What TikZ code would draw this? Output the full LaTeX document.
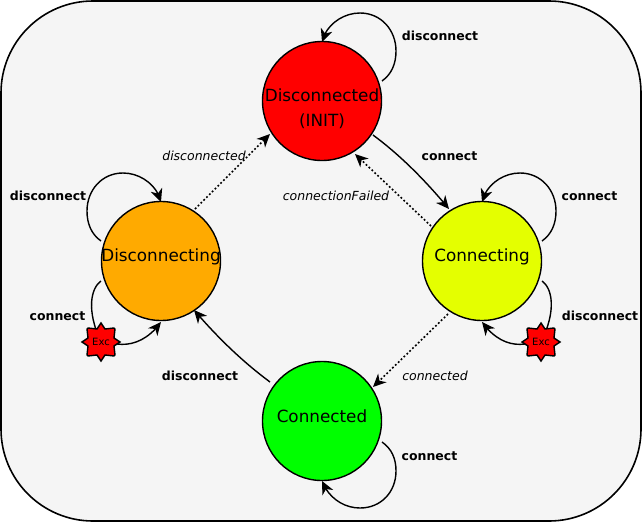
\documentclass[tikz,border=0pt]{standalone}
\usepackage{fontspec}
\setmainfont{DejaVu Sans}
\usetikzlibrary{arrows.meta,shapes.geometric,bending}
\definecolor{panel}{HTML}{F5F5F5}
\tikzset{x=1pt,y=-1pt,
 st/.style={circle,draw=black,line width=1.4pt,minimum size=119pt,inner sep=0pt},
 stt/.style={inner sep=0pt,align=center,font=\fontsize{16.8}{25}\selectfont,text=black},
 tr/.style={line width=1.4pt,-{Stealth[length=13pt,width=12pt,inset=4pt]}},
 dot/.style={tr,line width=1.6pt,dash pattern=on 1.8pt off 2.2pt},
 pl/.style={line width=1.4pt},
 lb/.style={font=\bfseries\fontsize{12.5}{14}\selectfont,inner sep=0pt},
 il/.style={font=\itshape\fontsize{12.5}{14}\selectfont,inner sep=0pt},
 exc/.style={circle,minimum size=30pt,inner sep=0pt,font=\fontsize{10}{10}\selectfont},
 burst/.style={draw=black,fill=red,line width=1.4pt,line join=miter}}
\newcommand{\burstat}[2]{\path[burst,shift={(#1,#2)}]
 (0,-19) -- (4,-13) -- (13,-14) -- (14,-13) -- (13,-4) -- (19,0) -- (13,4) -- (14,13) -- (13,14) -- (4,13)
 -- (0,19) -- (-4,13) -- (-13,14) -- (-14,13) -- (-13,4) -- (-19,0) -- (-13,-4) -- (-14,-13) -- (-13,-14) -- (-4,-13) -- cycle;}
\begin{document}
\begin{tikzpicture}
\useasboundingbox (0,0) rectangle (642,522);
\fill[white] (0,0) rectangle (642,522);
\draw[fill=panel,line width=1.6pt,rounded corners=92pt] (1,1) rectangle (641,521);
\node[st,fill=red] (dc) at (322,101) {};
\node[st,fill={rgb,255:red,228;green,255;blue,0}] (cg) at (482,261) {};
\node[st,fill={rgb,255:red,0;green,255;blue,0}] (cd) at (322,421) {};
\node[st,fill={rgb,255:red,255;green,170;blue,0}] (dg) at (161,261) {};
\node[stt] (tdc) at (322,108.5) {Disconnected\\(INIT)};
\node[stt] (tcg) at (482,256.5) {Connecting};
\node[stt] (tcd) at (322,416) {Connected};
\node[stt] (tdg) at (161,256.5) {Disconnecting};
\coordinate (e1) at (101,342);
\coordinate (e2) at (541,342);
% self loops
\coordinate (a1) at (382,81);
\coordinate (b1) at (322,42);
\draw[tr] (a1) .. controls (392,74) and (396,63) .. (396,51) .. controls (396,30) and (381,13) .. (360,13) .. controls (341,13) and (325,27) .. (b1);
\coordinate (a2) at (542,241);
\coordinate (b2) at (482,202);
\draw[tr] (a2) .. controls (552,234) and (556,223) .. (556,211) .. controls (556,190) and (541,173) .. (520,173) .. controls (501,173) and (485,187) .. (b2);
\coordinate (a3) at (101,241);
\coordinate (b3) at (161,202);
\draw[tr] (a3) .. controls (91,234) and (87,223) .. (87,211) .. controls (87,190) and (102,173) .. (123,173) .. controls (142,173) and (158,187) .. (b3);
\coordinate (a4) at (382,442);
\coordinate (b4) at (322,481);
\draw[tr] (a4) .. controls (392,449) and (396,459) .. (396,471) .. controls (396,492) and (381,508) .. (360,508) .. controls (343,508) and (328,497) .. (b4);
% exception paths
\coordinate (a5) at (542,281);
\coordinate (a6) at (101,281);
\coordinate (b5) at (482,322);
\coordinate (b6) at (161,322);
\draw[pl] (a5) .. controls (552,288) and (557,310) .. (e2);
\draw[tr] (e2) ++(-16,2) .. controls (510,346) and (495,340) .. (b5);
\draw[pl] (a6) .. controls (91,288) and (86,310) .. (e1);
\draw[tr] (e1) ++(16,2) .. controls (132,346) and (148,340) .. (b6);
\burstat{101}{342}
\burstat{541}{342}
\node[exc] (x1) at (e1) {Exc};
\node[exc] (x2) at (e2) {Exc};
% transitions
\coordinate (c1) at (373,135);
\coordinate (c2) at (449,209);
\draw[tr] (c1) .. controls (400,155) and (425,180) .. (c2);
\coordinate (c3) at (270,382);
\coordinate (c4) at (194,310);
\draw[tr] (c3) .. controls (243,362) and (218,338) .. (c4);
\coordinate (d1) at (431,226);
\coordinate (d2) at (355,154);
\draw[dot] (d1) -- (d2);
\coordinate (d3) at (448,314);
\coordinate (d4) at (373,387);
\draw[dot] (d3) -- (d4);
\coordinate (d5) at (195,209);
\coordinate (d6) at (270,134);
\draw[dot] (d5) -- (d6);
\node[lb] (l1) at (440,36) {disconnect};
\node[lb] (l2) at (449.5,156) {connect};
\node[lb] (l3) at (589.5,196) {connect};
\node[lb] (l4) at (600,316) {disconnect};
\node[lb] (l5) at (429.5,456) {connect};
\node[lb] (l6) at (200,376) {disconnect};
\node[lb] (l7) at (57.5,316) {connect};
\node[lb] (l8) at (48,196) {disconnect};
\node[il] (l9) at (204,156) {disconnected};
\node[il] (l10) at (336,196) {connectionFailed};
\node[il] (l11) at (435,376) {connected};
\end{tikzpicture}
\end{document}
